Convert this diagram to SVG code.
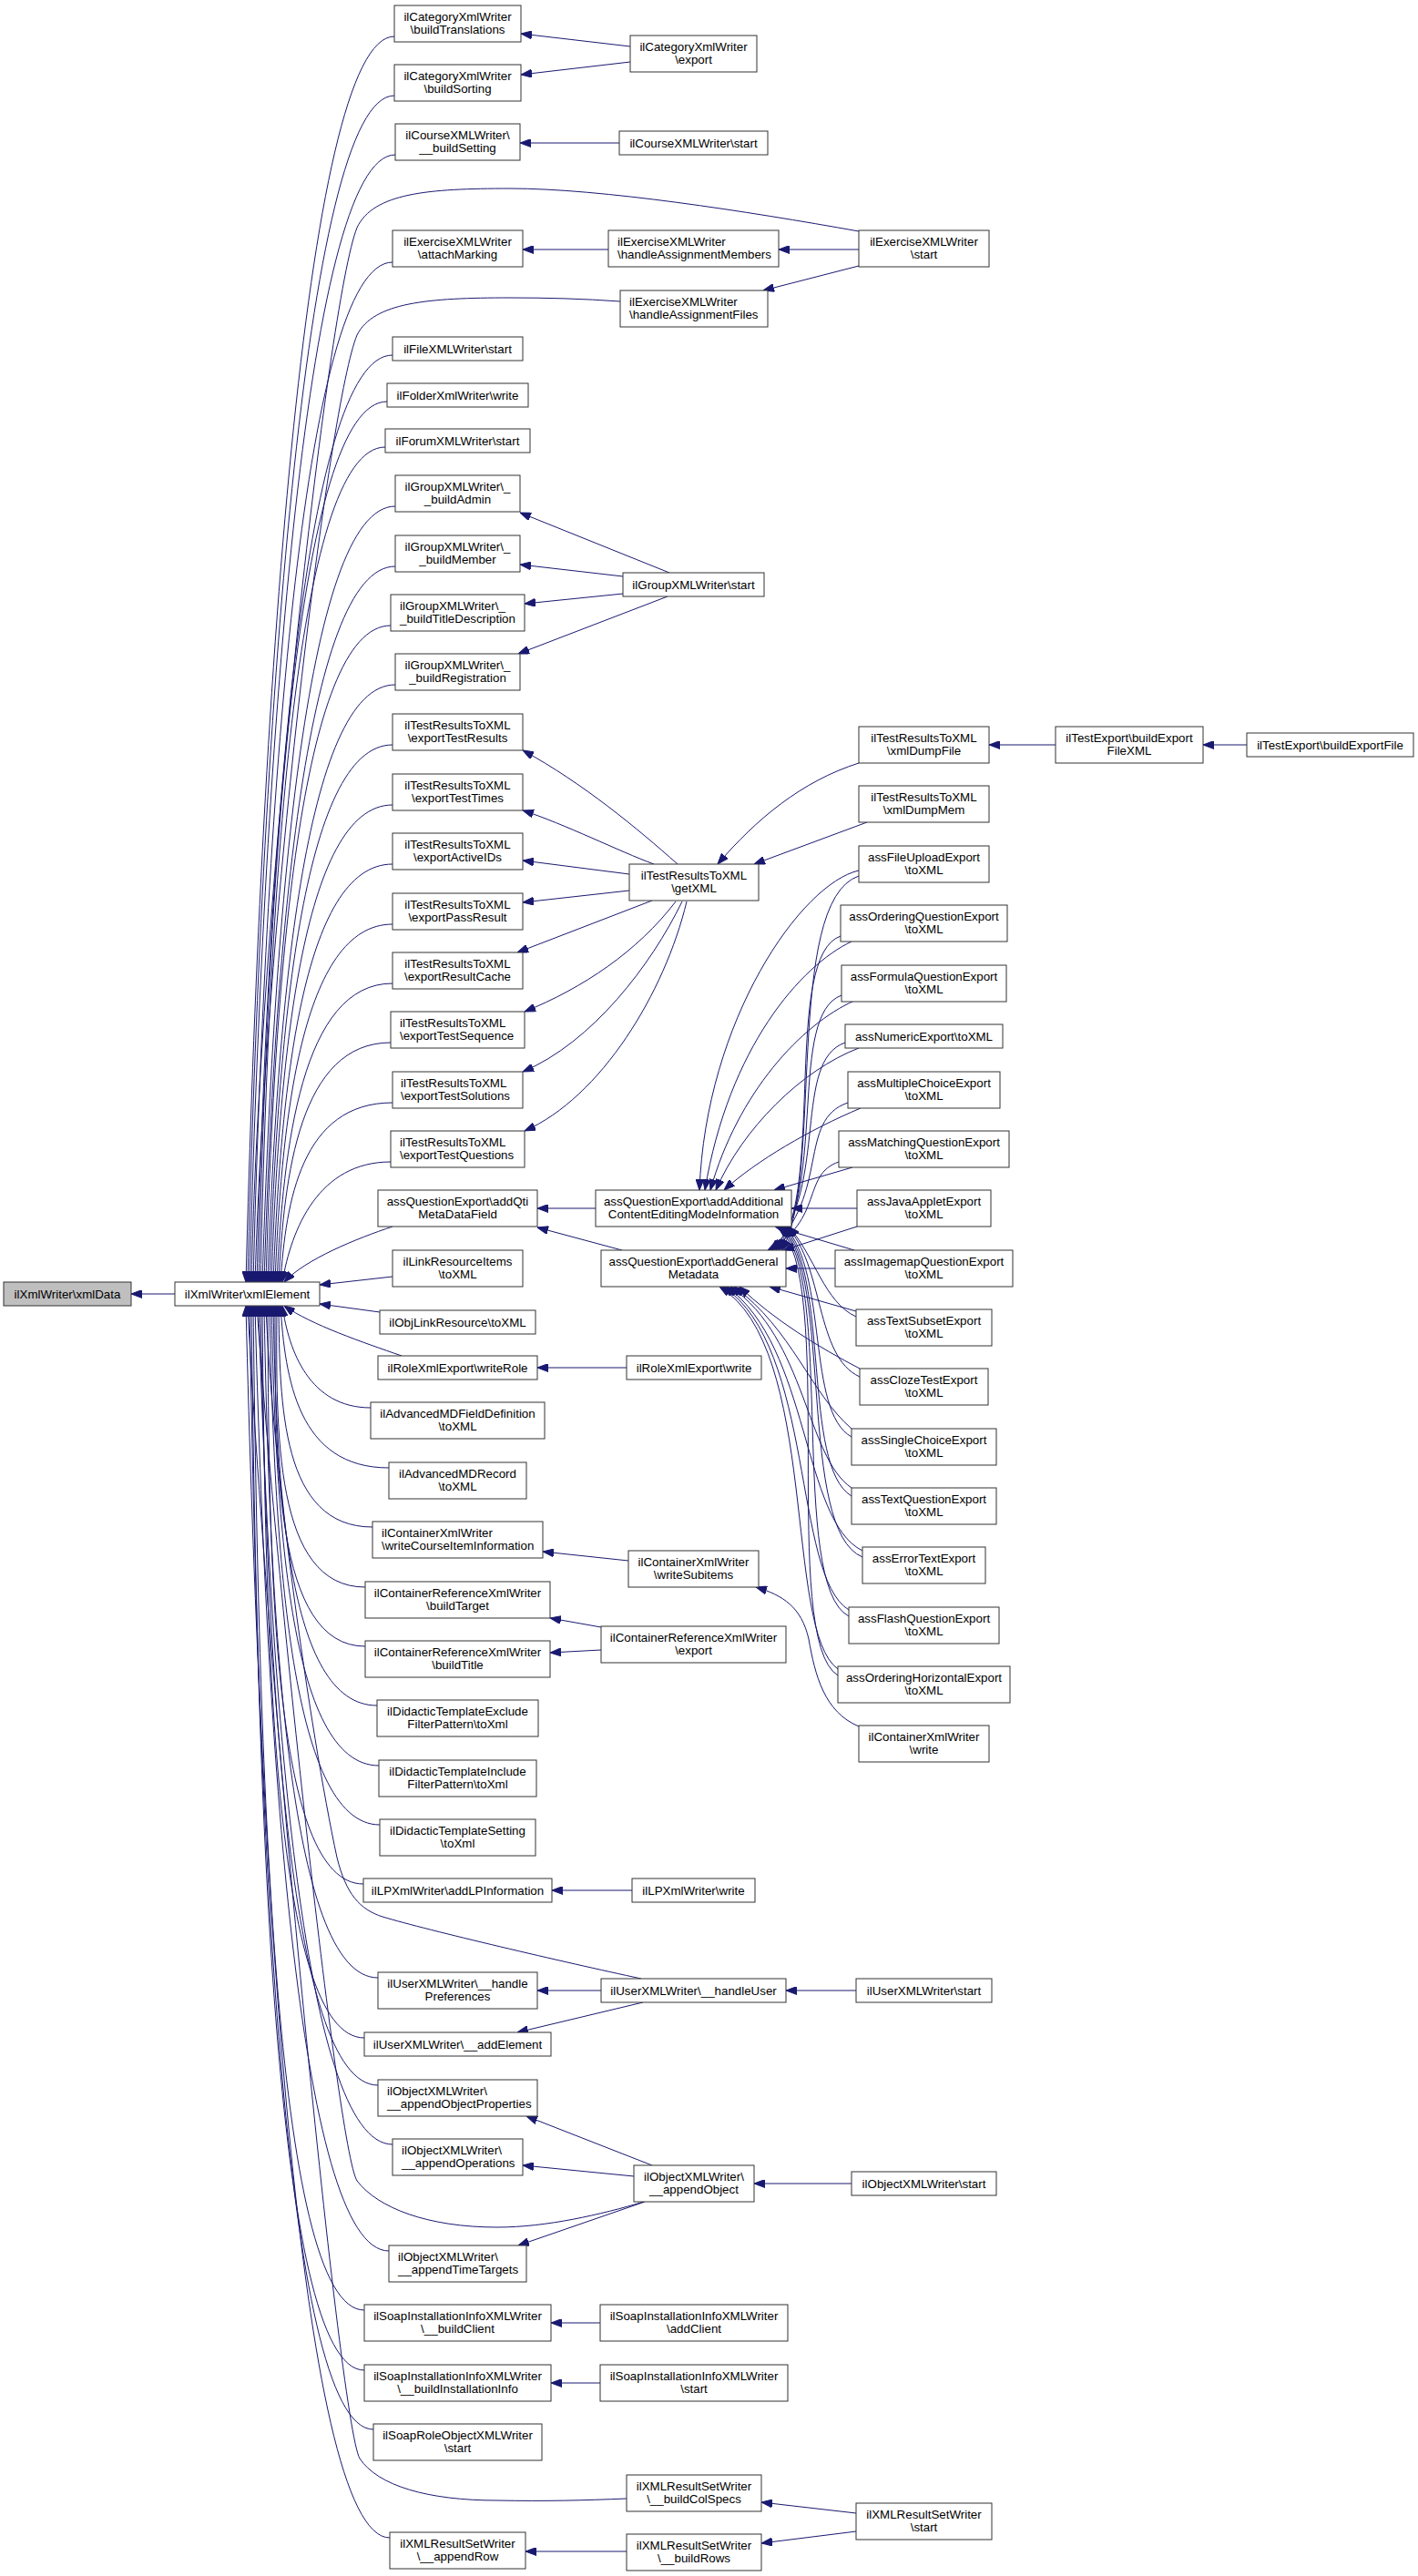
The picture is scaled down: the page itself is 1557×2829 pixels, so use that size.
<svg xmlns="http://www.w3.org/2000/svg" width="1557" height="2829" viewBox="0 0 1557 2829">
<style>
.n rect{fill:#fff;stroke:#333;stroke-width:1}
.hl rect{fill:#bfbfbf}
.n text{font-family:"Liberation Sans",Arial,Helvetica,sans-serif;font-size:13.33px;fill:#000;text-anchor:middle}
.n text.l{text-anchor:start}
.e path{fill:none;stroke:#191970;stroke-width:1;marker-end:url(#a)}
</style>
<defs>
<marker id="a" markerWidth="12" markerHeight="9" refX="12" refY="4.5" orient="auto" markerUnits="userSpaceOnUse">
<path d="M0,0 L12,4.5 L0,9 z" fill="#191970" stroke="#191970" stroke-width="1"/>
</marker>
</defs>
<rect x="0" y="0" width="1557" height="2829" fill="#fff"/>
<g id="edges" class="e">
<path d="M192,1421 L144,1421"/>
<path d="M433,40 C333,40 286,792 270,1408"/>
<path d="M433,105 C333,105 287,822 272,1408"/>
<path d="M434,170 C334,170 289,851 274,1408"/>
<path d="M943,254 C820,232 660,207 560,207 C470,207 410,212 392,250 C360,330 285,1000 276,1408"/>
<path d="M431,288 C331,288 291,904 278,1408"/>
<path d="M681,331 C640,328 600,327 560,327 C470,327 410,332 392,368 C362,440 292,1000 280,1408"/>
<path d="M431,390 C331,390 294,950 282,1408"/>
<path d="M425,441 C325,441 294,973 284,1408"/>
<path d="M423,491 C323,491 295,995 286,1408"/>
<path d="M434,556 C334,556 300,1025 288,1408"/>
<path d="M434,622 C334,622 301,1054 290,1408"/>
<path d="M429,687 C329,687 301,1084 292,1408"/>
<path d="M434,752 C334,752 304,1113 294,1408"/>
<path d="M431,818 C331,818 305,1143 296,1408"/>
<path d="M431,884 C331,884 306,1172 298,1408"/>
<path d="M431,949 C331,949 308,1202 300,1408"/>
<path d="M431,1015 C331,1015 309,1231 302,1408"/>
<path d="M431,1080 C331,1080 311,1260 304,1408"/>
<path d="M429,1145 C329,1145 312,1290 306,1408"/>
<path d="M431,1211 C331,1211 314,1319 308,1408"/>
<path d="M429,1276 C350,1276 320,1349 310,1408"/>
<path d="M431,1347 C392,1360 335,1383 312,1408"/>
<path d="M431,1402 L351,1411"/>
<path d="M417,1441 L351,1432"/>
<path d="M441,1489 C398,1474 342,1455 312,1434"/>
<path d="M407,1546 C340,1546 317,1484 310,1434"/>
<path d="M427,1612 C327,1612 313,1514 308,1434"/>
<path d="M409,1677 C309,1677 307,1543 306,1434"/>
<path d="M401,1743 C301,1743 303,1573 304,1434"/>
<path d="M401,1808 C301,1808 302,1602 302,1434"/>
<path d="M414,1873 C314,1873 304,1632 300,1434"/>
<path d="M416,1939 C316,1939 303,1661 298,1434"/>
<path d="M417,2004 C317,2004 301,1691 296,1434"/>
<path d="M399,2069 C299,2069 295,1720 294,1434"/>
<path d="M704,2173 C620,2155 470,2120 420,2105 C395,2097 380,2080 370,2040 C340,1900 298,1600 292,1434"/>
<path d="M415,2172 C315,2172 296,1766 290,1434"/>
<path d="M400,2238 C300,2238 291,1796 288,1434"/>
<path d="M415,2290 C315,2290 293,1819 286,1434"/>
<path d="M431,2355 C331,2355 296,1849 284,1434"/>
<path d="M707,2418 C660,2432 600,2446 546,2446 C470,2446 415,2425 392,2395 C370,2360 300,1700 282,1434"/>
<path d="M427,2472 C327,2472 292,1901 280,1434"/>
<path d="M400,2537 C300,2537 284,1930 278,1434"/>
<path d="M400,2603 C300,2603 282,1960 276,1434"/>
<path d="M410,2668 C310,2668 283,1989 274,1434"/>
<path d="M688,2744 C640,2746 600,2747 546,2746 C470,2746 415,2730 395,2700 C372,2660 290,1800 272,1434"/>
<path d="M428,2787 C328,2787 285,2043 270,1434"/>
<path d="M692,51 L572,37"/>
<path d="M692,68 L572,82"/>
<path d="M680,157 L571,157"/>
<path d="M668,274 L574,274"/>
<path d="M943,274 L855,274"/>
<path d="M943,292 L838,319"/>
<path d="M735,629 L571,563"/>
<path d="M684,633 L571,620"/>
<path d="M684,652 L576,663"/>
<path d="M733,655 L569,718"/>
<path d="M744,949 C700,910 640,860 574,824"/>
<path d="M718,949 C680,935 620,905 574,890"/>
<path d="M691,960 L574,945"/>
<path d="M691,978 L574,991"/>
<path d="M716,989 L568,1046"/>
<path d="M742,990 C700,1045 640,1085 576,1111"/>
<path d="M749,990 C715,1060 650,1145 574,1177"/>
<path d="M754,990 C730,1090 660,1205 576,1242"/>
<path d="M943,838 C880,858 830,900 788,949"/>
<path d="M952,903 L828,949"/>
<path d="M1159,818 L1086,818"/>
<path d="M1369,818 L1321,818"/>
<path d="M654,1327 L590,1327"/>
<path d="M683,1373 L590,1348"/>
<path d="M943,956 C880,970 775,1120 768,1307"/>
<path d="M935,1034 C880,1060 800,1150 774,1307"/>
<path d="M938,1099 C880,1125 810,1200 780,1307"/>
<path d="M943,1151 C880,1175 815,1240 786,1307"/>
<path d="M945,1217 C890,1240 830,1275 795,1307"/>
<path d="M936,1282 L850,1307"/>
<path d="M941,1327 L869,1327"/>
<path d="M943,962 C860,990 905,1300 858,1373"/>
<path d="M923,1028 C860,1050 905,1300 855,1373"/>
<path d="M924,1093 C865,1115 908,1300 852,1373"/>
<path d="M928,1145 C870,1165 910,1300 849,1373"/>
<path d="M931,1211 C875,1230 912,1310 846,1373"/>
<path d="M921,1276 C880,1290 905,1340 843,1373"/>
<path d="M941,1347 L860,1373"/>
<path d="M917,1393 L863,1393"/>
<path d="M940,1440 L845,1413"/>
<path d="M944,1503 C900,1480 850,1450 812,1413"/>
<path d="M935,1569 C890,1530 870,1460 806,1413"/>
<path d="M935,1634 C885,1600 885,1470 802,1413"/>
<path d="M947,1703 C880,1670 890,1480 798,1413"/>
<path d="M932,1768 C870,1730 895,1480 794,1413"/>
<path d="M920,1833 C860,1790 900,1480 790,1413"/>
<path d="M940,1446 C905,1430 895,1380 866,1347"/>
<path d="M944,1512 C895,1490 905,1390 864,1347"/>
<path d="M935,1578 C885,1550 910,1400 862,1347"/>
<path d="M935,1643 C880,1610 912,1400 860,1347"/>
<path d="M947,1710 C875,1680 915,1400 858,1347"/>
<path d="M932,1775 C865,1740 918,1400 856,1347"/>
<path d="M920,1840 C855,1800 920,1400 854,1347"/>
<path d="M938,1373 L851,1347"/>
<path d="M943,1896 C905,1880 895,1840 888,1800 C880,1765 860,1752 830,1743"/>
<path d="M690,1714 L596,1704"/>
<path d="M660,1787 L604,1777"/>
<path d="M660,1812 L604,1815"/>
<path d="M688,1502 L590,1502"/>
<path d="M694,2076 L606,2076"/>
<path d="M940,2186 L863,2186"/>
<path d="M660,2186 L590,2186"/>
<path d="M706,2199 L568,2232"/>
<path d="M935,2398 L828,2398"/>
<path d="M716,2378 L578,2324"/>
<path d="M696,2390 L574,2378"/>
<path d="M708,2418 L569,2466"/>
<path d="M659,2551 L605,2551"/>
<path d="M659,2617 L605,2617"/>
<path d="M940,2760 L836,2748"/>
<path d="M940,2780 L836,2793"/>
<path d="M688,2802 L577,2802"/>
</g>
<g id="n_xmlData" class="n hl"><rect x="4" y="1408" width="140" height="26"/><text x="74" y="1426">ilXmlWriter\xmlData</text></g>
<g id="n_xmlElement" class="n"><rect x="192" y="1408" width="159" height="26"/><text x="271.5" y="1426">ilXmlWriter\xmlElement</text></g>
<g id="n_A1" class="n"><rect x="433" y="6" width="139" height="40"/><text x="502.5" y="22.5">ilCategoryXmlWriter</text><text x="502.5" y="37">\buildTranslations</text></g>
<g id="n_A2" class="n"><rect x="433" y="71" width="139" height="40"/><text x="502.5" y="87.5">ilCategoryXmlWriter</text><text x="502.5" y="102">\buildSorting</text></g>
<g id="n_A3" class="n"><rect x="434" y="136" width="137" height="40"/><text x="502.5" y="152.5">ilCourseXMLWriter\</text><text x="502.5" y="167">__buildSetting</text></g>
<g id="n_A4" class="n"><rect x="431" y="253" width="143" height="40"/><text x="502.5" y="269.5">ilExerciseXMLWriter</text><text x="502.5" y="284">\attachMarking</text></g>
<g id="n_A5" class="n"><rect x="431" y="370" width="143" height="26"/><text x="502.5" y="388">ilFileXMLWriter\start</text></g>
<g id="n_A6" class="n"><rect x="425" y="421" width="155" height="26"/><text x="502.5" y="439">ilFolderXmlWriter\write</text></g>
<g id="n_A7" class="n"><rect x="423" y="471" width="159" height="26"/><text x="502.5" y="489">ilForumXMLWriter\start</text></g>
<g id="n_A8" class="n"><rect x="434" y="522" width="137" height="40"/><text x="502.5" y="538.5">ilGroupXMLWriter\_</text><text x="502.5" y="553">_buildAdmin</text></g>
<g id="n_A9" class="n"><rect x="434" y="588" width="137" height="40"/><text x="502.5" y="604.5">ilGroupXMLWriter\_</text><text x="502.5" y="619">_buildMember</text></g>
<g id="n_A10" class="n"><rect x="429" y="653" width="147" height="40"/><text class="l" x="439" y="669.5">ilGroupXMLWriter\_</text><text class="l" x="439" y="684">_buildTitleDescription</text></g>
<g id="n_A11" class="n"><rect x="434" y="718" width="137" height="40"/><text x="502.5" y="734.5">ilGroupXMLWriter\_</text><text x="502.5" y="749">_buildRegistration</text></g>
<g id="n_A12" class="n"><rect x="431" y="784" width="143" height="40"/><text x="502.5" y="800.5">ilTestResultsToXML</text><text x="502.5" y="815">\exportTestResults</text></g>
<g id="n_A13" class="n"><rect x="431" y="850" width="143" height="40"/><text x="502.5" y="866.5">ilTestResultsToXML</text><text x="502.5" y="881">\exportTestTimes</text></g>
<g id="n_A14" class="n"><rect x="431" y="915" width="143" height="40"/><text x="502.5" y="931.5">ilTestResultsToXML</text><text x="502.5" y="946">\exportActiveIDs</text></g>
<g id="n_A15" class="n"><rect x="431" y="981" width="143" height="40"/><text x="502.5" y="997.5">ilTestResultsToXML</text><text x="502.5" y="1012">\exportPassResult</text></g>
<g id="n_A16" class="n"><rect x="431" y="1046" width="143" height="40"/><text x="502.5" y="1062.5">ilTestResultsToXML</text><text x="502.5" y="1077">\exportResultCache</text></g>
<g id="n_A17" class="n"><rect x="429" y="1111" width="147" height="40"/><text class="l" x="439" y="1127.5">ilTestResultsToXML</text><text class="l" x="439" y="1142">\exportTestSequence</text></g>
<g id="n_A18" class="n"><rect x="431" y="1177" width="143" height="40"/><text class="l" x="440" y="1193.5">ilTestResultsToXML</text><text class="l" x="440" y="1208">\exportTestSolutions</text></g>
<g id="n_A19" class="n"><rect x="429" y="1242" width="147" height="40"/><text class="l" x="439" y="1258.5">ilTestResultsToXML</text><text class="l" x="439" y="1273">\exportTestQuestions</text></g>
<g id="n_A20" class="n"><rect x="415" y="1307" width="175" height="40"/><text x="502.5" y="1323.5">assQuestionExport\addQti</text><text x="502.5" y="1338">MetaDataField</text></g>
<g id="n_A21" class="n"><rect x="431" y="1373" width="143" height="40"/><text x="502.5" y="1389.5">ilLinkResourceItems</text><text x="502.5" y="1404">\toXML</text></g>
<g id="n_A22" class="n"><rect x="417" y="1439" width="171" height="26"/><text x="502.5" y="1457">ilObjLinkResource\toXML</text></g>
<g id="n_A23" class="n"><rect x="415" y="1489" width="175" height="26"/><text x="502.5" y="1507">ilRoleXmlExport\writeRole</text></g>
<g id="n_A24" class="n"><rect x="407" y="1540" width="191" height="40"/><text x="502.5" y="1556.5">ilAdvancedMDFieldDefinition</text><text x="502.5" y="1571">\toXML</text></g>
<g id="n_A25" class="n"><rect x="427" y="1606" width="151" height="40"/><text x="502.5" y="1622.5">ilAdvancedMDRecord</text><text x="502.5" y="1637">\toXML</text></g>
<g id="n_A26" class="n"><rect x="409" y="1671" width="187" height="40"/><text class="l" x="419" y="1687.5">ilContainerXmlWriter</text><text class="l" x="419" y="1702">\writeCourseItemInformation</text></g>
<g id="n_A27" class="n"><rect x="401" y="1737" width="203" height="40"/><text x="502.5" y="1753.5">ilContainerReferenceXmlWriter</text><text x="502.5" y="1768">\buildTarget</text></g>
<g id="n_A28" class="n"><rect x="401" y="1802" width="203" height="40"/><text x="502.5" y="1818.5">ilContainerReferenceXmlWriter</text><text x="502.5" y="1833">\buildTitle</text></g>
<g id="n_A29" class="n"><rect x="414" y="1867" width="177" height="40"/><text x="502.5" y="1883.5">ilDidacticTemplateExclude</text><text x="502.5" y="1898">FilterPattern\toXml</text></g>
<g id="n_A30" class="n"><rect x="416" y="1933" width="173" height="40"/><text x="502.5" y="1949.5">ilDidacticTemplateInclude</text><text x="502.5" y="1964">FilterPattern\toXml</text></g>
<g id="n_A31" class="n"><rect x="417" y="1998" width="171" height="40"/><text x="502.5" y="2014.5">ilDidacticTemplateSetting</text><text x="502.5" y="2029">\toXml</text></g>
<g id="n_A32" class="n"><rect x="399" y="2063" width="207" height="26"/><text x="502.5" y="2081">ilLPXmlWriter\addLPInformation</text></g>
<g id="n_A33" class="n"><rect x="415" y="2166" width="175" height="40"/><text x="502.5" y="2182.5">ilUserXMLWriter\__handle</text><text x="502.5" y="2197">Preferences</text></g>
<g id="n_A34" class="n"><rect x="400" y="2232" width="205" height="26"/><text x="502.5" y="2250">ilUserXMLWriter\__addElement</text></g>
<g id="n_A35" class="n"><rect x="415" y="2284" width="175" height="40"/><text class="l" x="425" y="2300.5">ilObjectXMLWriter\</text><text class="l" x="425" y="2315">__appendObjectProperties</text></g>
<g id="n_A36" class="n"><rect x="431" y="2349" width="143" height="40"/><text class="l" x="441" y="2365.5">ilObjectXMLWriter\</text><text class="l" x="441" y="2380">__appendOperations</text></g>
<g id="n_A37" class="n"><rect x="427" y="2466" width="151" height="40"/><text class="l" x="437" y="2482.5">ilObjectXMLWriter\</text><text class="l" x="437" y="2497">__appendTimeTargets</text></g>
<g id="n_A38" class="n"><rect x="400" y="2531" width="205" height="40"/><text x="502.5" y="2547.5">ilSoapInstallationInfoXMLWriter</text><text x="502.5" y="2562">\__buildClient</text></g>
<g id="n_A39" class="n"><rect x="400" y="2597" width="205" height="40"/><text x="502.5" y="2613.5">ilSoapInstallationInfoXMLWriter</text><text x="502.5" y="2628">\__buildInstallationInfo</text></g>
<g id="n_A40" class="n"><rect x="410" y="2662" width="185" height="40"/><text x="502.5" y="2678.5">ilSoapRoleObjectXMLWriter</text><text x="502.5" y="2693">\start</text></g>
<g id="n_A41" class="n"><rect x="428" y="2781" width="149" height="40"/><text x="502.5" y="2797.5">ilXMLResultSetWriter</text><text x="502.5" y="2812">\__appendRow</text></g>
<g id="n_B1" class="n"><rect x="692" y="39" width="139" height="40"/><text x="761.5" y="55.5">ilCategoryXmlWriter</text><text x="761.5" y="70">\export</text></g>
<g id="n_B2" class="n"><rect x="680" y="144" width="163" height="26"/><text x="761.5" y="162">ilCourseXMLWriter\start</text></g>
<g id="n_B3" class="n"><rect x="668" y="253" width="187" height="40"/><text class="l" x="678" y="269.5">ilExerciseXMLWriter</text><text class="l" x="678" y="284">\handleAssignmentMembers</text></g>
<g id="n_B4" class="n"><rect x="681" y="319" width="162" height="40"/><text class="l" x="691" y="335.5">ilExerciseXMLWriter</text><text class="l" x="691" y="350">\handleAssignmentFiles</text></g>
<g id="n_B5" class="n"><rect x="684" y="629" width="155" height="26"/><text x="761.5" y="647">ilGroupXMLWriter\start</text></g>
<g id="n_B6" class="n"><rect x="691" y="949" width="142" height="40"/><text x="762" y="965.5">ilTestResultsToXML</text><text x="762" y="980">\getXML</text></g>
<g id="n_B7" class="n"><rect x="654" y="1307" width="215" height="40"/><text x="761.5" y="1323.5">assQuestionExport\addAdditional</text><text x="761.5" y="1338">ContentEditingModeInformation</text></g>
<g id="n_B8" class="n"><rect x="660" y="1373" width="203" height="40"/><text x="761.5" y="1389.5">assQuestionExport\addGeneral</text><text x="761.5" y="1404">Metadata</text></g>
<g id="n_B9" class="n"><rect x="688" y="1489" width="148" height="26"/><text x="762" y="1507">ilRoleXmlExport\write</text></g>
<g id="n_B10" class="n"><rect x="690" y="1703" width="143" height="40"/><text x="761.5" y="1719.5">ilContainerXmlWriter</text><text x="761.5" y="1734">\writeSubitems</text></g>
<g id="n_B11" class="n"><rect x="660" y="1786" width="203" height="40"/><text x="761.5" y="1802.5">ilContainerReferenceXmlWriter</text><text x="761.5" y="1817">\export</text></g>
<g id="n_B12" class="n"><rect x="694" y="2063" width="135" height="26"/><text x="761.5" y="2081">ilLPXmlWriter\write</text></g>
<g id="n_B13" class="n"><rect x="660" y="2173" width="203" height="26"/><text x="761.5" y="2191">ilUserXMLWriter\__handleUser</text></g>
<g id="n_B14" class="n"><rect x="696" y="2378" width="132" height="40"/><text x="762" y="2394.5">ilObjectXMLWriter\</text><text x="762" y="2409">__appendObject</text></g>
<g id="n_B15" class="n"><rect x="659" y="2531" width="206" height="40"/><text x="762" y="2547.5">ilSoapInstallationInfoXMLWriter</text><text x="762" y="2562">\addClient</text></g>
<g id="n_B16" class="n"><rect x="659" y="2597" width="206" height="40"/><text x="762" y="2613.5">ilSoapInstallationInfoXMLWriter</text><text x="762" y="2628">\start</text></g>
<g id="n_B17" class="n"><rect x="688" y="2718" width="148" height="40"/><text x="762" y="2734.5">ilXMLResultSetWriter</text><text x="762" y="2749">\__buildColSpecs</text></g>
<g id="n_B18" class="n"><rect x="688" y="2783" width="148" height="40"/><text x="762" y="2799.5">ilXMLResultSetWriter</text><text x="762" y="2814">\__buildRows</text></g>
<g id="n_C1" class="n"><rect x="943" y="253" width="143" height="40"/><text x="1014.5" y="269.5">ilExerciseXMLWriter</text><text x="1014.5" y="284">\start</text></g>
<g id="n_C2" class="n"><rect x="943" y="798" width="143" height="40"/><text x="1014.5" y="814.5">ilTestResultsToXML</text><text x="1014.5" y="829">\xmlDumpFile</text></g>
<g id="n_C3" class="n"><rect x="943" y="863" width="143" height="40"/><text x="1014.5" y="879.5">ilTestResultsToXML</text><text x="1014.5" y="894">\xmlDumpMem</text></g>
<g id="n_C4" class="n"><rect x="943" y="929" width="143" height="40"/><text x="1014.5" y="945.5">assFileUploadExport</text><text x="1014.5" y="960">\toXML</text></g>
<g id="n_C5" class="n"><rect x="923" y="994" width="183" height="40"/><text x="1014.5" y="1010.5">assOrderingQuestionExport</text><text x="1014.5" y="1025">\toXML</text></g>
<g id="n_C6" class="n"><rect x="924" y="1060" width="181" height="40"/><text x="1014.5" y="1076.5">assFormulaQuestionExport</text><text x="1014.5" y="1091">\toXML</text></g>
<g id="n_C7" class="n"><rect x="928" y="1125" width="173" height="26"/><text x="1014.5" y="1143">assNumericExport\toXML</text></g>
<g id="n_C8" class="n"><rect x="931" y="1177" width="167" height="40"/><text x="1014.5" y="1193.5">assMultipleChoiceExport</text><text x="1014.5" y="1208">\toXML</text></g>
<g id="n_C9" class="n"><rect x="921" y="1242" width="187" height="40"/><text x="1014.5" y="1258.5">assMatchingQuestionExport</text><text x="1014.5" y="1273">\toXML</text></g>
<g id="n_C10" class="n"><rect x="941" y="1307" width="147" height="40"/><text x="1014.5" y="1323.5">assJavaAppletExport</text><text x="1014.5" y="1338">\toXML</text></g>
<g id="n_C11" class="n"><rect x="917" y="1373" width="195" height="40"/><text x="1014.5" y="1389.5">assImagemapQuestionExport</text><text x="1014.5" y="1404">\toXML</text></g>
<g id="n_C12" class="n"><rect x="940" y="1438" width="149" height="40"/><text x="1014.5" y="1454.5">assTextSubsetExport</text><text x="1014.5" y="1469">\toXML</text></g>
<g id="n_C13" class="n"><rect x="944" y="1503" width="141" height="40"/><text x="1014.5" y="1519.5">assClozeTestExport</text><text x="1014.5" y="1534">\toXML</text></g>
<g id="n_C14" class="n"><rect x="935" y="1569" width="159" height="40"/><text x="1014.5" y="1585.5">assSingleChoiceExport</text><text x="1014.5" y="1600">\toXML</text></g>
<g id="n_C15" class="n"><rect x="935" y="1634" width="159" height="40"/><text x="1014.5" y="1650.5">assTextQuestionExport</text><text x="1014.5" y="1665">\toXML</text></g>
<g id="n_C16" class="n"><rect x="947" y="1699" width="135" height="40"/><text x="1014.5" y="1715.5">assErrorTextExport</text><text x="1014.5" y="1730">\toXML</text></g>
<g id="n_C17" class="n"><rect x="932" y="1765" width="165" height="40"/><text x="1014.5" y="1781.5">assFlashQuestionExport</text><text x="1014.5" y="1796">\toXML</text></g>
<g id="n_C18" class="n"><rect x="920" y="1830" width="189" height="40"/><text x="1014.5" y="1846.5">assOrderingHorizontalExport</text><text x="1014.5" y="1861">\toXML</text></g>
<g id="n_C19" class="n"><rect x="943" y="1895" width="143" height="40"/><text x="1014.5" y="1911.5">ilContainerXmlWriter</text><text x="1014.5" y="1926">\write</text></g>
<g id="n_C20" class="n"><rect x="940" y="2173" width="149" height="26"/><text x="1014.5" y="2191">ilUserXMLWriter\start</text></g>
<g id="n_C21" class="n"><rect x="935" y="2385" width="159" height="26"/><text x="1014.5" y="2403">ilObjectXMLWriter\start</text></g>
<g id="n_C22" class="n"><rect x="940" y="2749" width="149" height="40"/><text x="1014.5" y="2765.5">ilXMLResultSetWriter</text><text x="1014.5" y="2780">\start</text></g>
<g id="n_D" class="n"><rect x="1159" y="798" width="162" height="40"/><text x="1240" y="814.5">ilTestExport\buildExport</text><text x="1240" y="829">FileXML</text></g>
<g id="n_E" class="n"><rect x="1369" y="805" width="183" height="26"/><text x="1460.5" y="823">ilTestExport\buildExportFile</text></g>
</svg>
